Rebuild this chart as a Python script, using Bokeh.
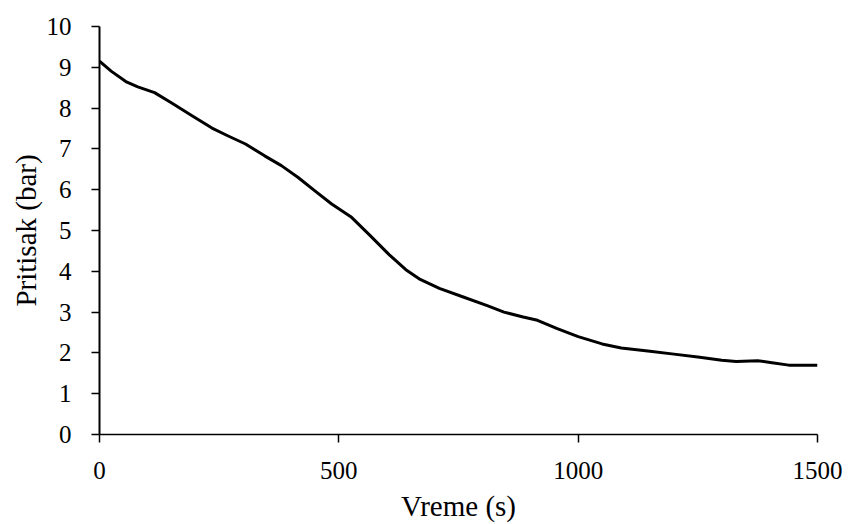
from bokeh.plotting import figure
from bokeh.models import Range1d, FixedTicker
from bokeh.embed import file_html
from bokeh.resources import INLINE

# Data
time_s = [0, 25, 55, 80, 115, 150, 195, 235, 270, 305, 345, 380, 415, 450,
          485, 525, 565, 605, 640, 670, 710, 760, 810, 845, 885, 915, 955,
          1000, 1050, 1090, 1150, 1200, 1250, 1300, 1330, 1375, 1405, 1440,
          1500]
pressure_bar = [9.15, 8.90, 8.65, 8.52, 8.38, 8.13, 7.80, 7.51, 7.31, 7.12,
                6.83, 6.59, 6.30, 5.97, 5.65, 5.34, 4.88, 4.41, 4.04, 3.80,
                3.58, 3.37, 3.16, 3.00, 2.88, 2.80, 2.60, 2.40, 2.22, 2.12,
                2.04, 1.97, 1.90, 1.82, 1.79, 1.81, 1.76, 1.70, 1.70]
x_ticks = [0, 500, 1000, 1500]
y_ticks = [0, 1, 2, 3, 4, 5, 6, 7, 8, 9, 10]

FONT = "Liberation Serif"

p = figure(width=850, height=524, output_backend="svg", toolbar_location=None,
           x_range=Range1d(0, 1500), y_range=Range1d(0, 10),
           min_border_left=99, min_border_right=33, min_border_top=26,
           min_border_bottom=88)
p.outline_line_color = None
p.grid.visible = False
p.background_fill_color = "white"
p.border_fill_color = "white"

p.line(time_s, pressure_bar, line_color="black", line_width=3,
       line_join="round")

p.xaxis.ticker = FixedTicker(ticks=x_ticks)
p.yaxis.ticker = FixedTicker(ticks=y_ticks)
p.xaxis.axis_label = "Vreme (s)"
p.yaxis.axis_label = "Pritisak (bar)"

for ax in (p.xaxis[0], p.yaxis[0]):
    ax.axis_line_color = "black"
    ax.major_tick_line_color = "black"
    ax.minor_tick_line_color = None
    ax.major_tick_in = 0
    ax.major_tick_out = 8
    ax.major_label_text_font = FONT
    ax.major_label_text_font_size = "25px"
    ax.major_label_text_color = "black"
    ax.axis_label_text_font = FONT
    ax.axis_label_text_font_size = "29px"
    ax.axis_label_text_font_style = "normal"
    ax.axis_label_text_color = "black"

p.xaxis.axis_line_width = 1.5
p.xaxis.major_tick_line_width = 1.5
p.yaxis.axis_line_width = 2
p.yaxis.major_tick_line_width = 1.5
p.xaxis.major_label_standoff = 19
p.yaxis.major_label_standoff = 20
p.xaxis.axis_label_standoff = 8
p.yaxis.axis_label_standoff = 2

open("out.html", "w").write(file_html(p, INLINE))
